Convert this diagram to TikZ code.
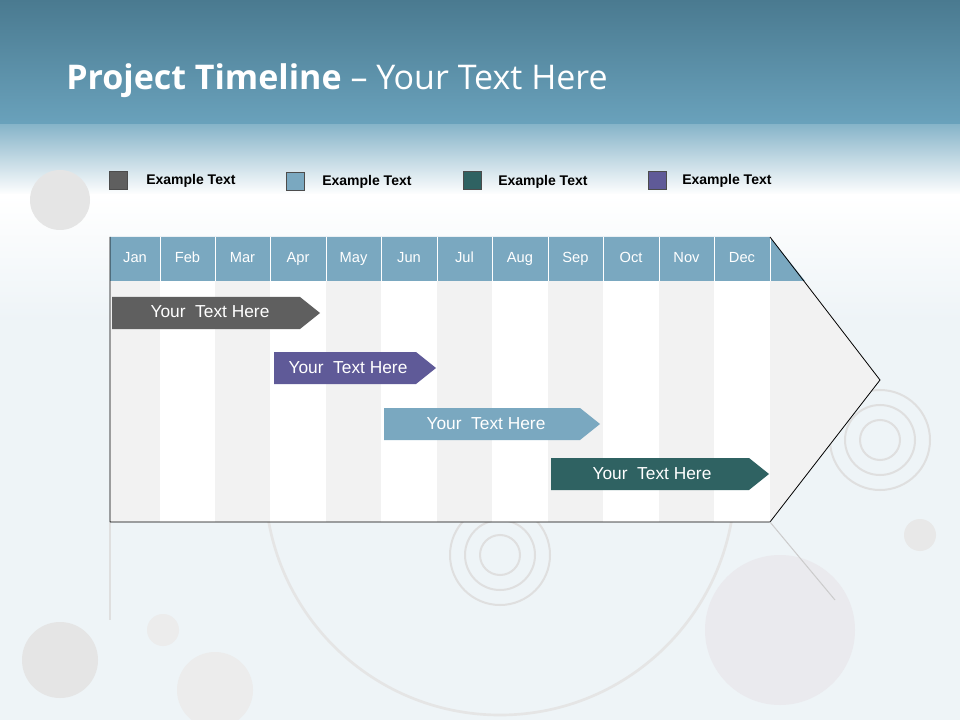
\documentclass[tikz,border=0pt]{standalone}
\usepackage{fontspec}
\setmainfont{Liberation Sans}
\newfontfamily\titlefont{Open Sans}
\begin{document}
\begin{tikzpicture}[x=0.75pt,y=-0.75pt]
\definecolor{hdr}{HTML}{7AA8C0}
\definecolor{cgray}{HTML}{5F5F5F}
\definecolor{cpurp}{HTML}{5F5A98}
\definecolor{cteal}{HTML}{2F6262}
\definecolor{bandtop}{HTML}{4A7A90}
\definecolor{bandbot}{HTML}{6AA2BC}
\definecolor{bgl}{HTML}{EEF4F7}
\tikzset{
  legbox/.style={draw=gray!60!black,line width=0.4pt,minimum size=13.5pt,inner sep=0},
  legtxt/.style={font=\bfseries\fontsize{10.5}{12}\selectfont,anchor=west,inner sep=0},
  month/.style={font=\fontsize{11}{13}\selectfont,text=white,text height=8pt,text depth=2pt},
  bartxt/.style={font=\fontsize{13}{15}\selectfont,text=white,text height=9.5pt,text depth=2.5pt},
  deco/.style={draw=gray!25,line width=2pt},
}
\useasboundingbox (0,0) rectangle (960,720);
\fill[bgl] (0,0) rectangle (960,720);
\shade[top color=bandtop,bottom color=bandbot] (0,0) rectangle (960,125);
\shade[top color=bandbot!80,bottom color=white] (0,125) rectangle (960,195);
\shade[top color=white,bottom color=bgl] (0,195) rectangle (960,320);
% faint decoration
\fill[gray!20] (60,660) circle (38);
\fill[gray!15] (215,690) circle (38);
\fill[gray!20] (60,200) circle (30);
\fill[blue!10!gray!15] (780,630) circle (75);
\fill[gray!18] (920,535) circle (16);
\fill[gray!15] (163,630) circle (16);
\foreach \r in {20,35,50} \draw[gray!25,line width=1.5pt] (500,555) circle (\r);
\foreach \r in {20,35,50} \draw[gray!25,line width=1.5pt] (880,440) circle (\r);
\draw[gray!20,line width=2pt] (500,480) circle (235);
\draw[gray!25,line width=1pt] (110,522) -- (110,620);
% chart body columns
\foreach \a/\b [count=\i] in {110/160,160/215,215/270,270/326,326/381,381/437,437/492,492/548,548/603,603/659,659/714,714/770}{
  \pgfmathparse{mod(\i,2)==1 ? "black!5" : "white"}
  \edef\cc{\pgfmathresult}
  \fill[\cc] (\a,281) rectangle (\b,522);
  \draw[gray!40,line width=0.4pt] (\b,281) -- (\b,522);
}
\fill[black!5] (770,281) -- (805,281) -- (880,380) -- (770,522) -- cycle;
% header
\fill[hdr] (110,237) -- (770,237) -- (805,281) -- (110,281) -- cycle;
\foreach \a/\b/\m in {110/160/Jan,160/215/Feb,215/270/Mar,270/326/Apr,326/381/May,381/437/Jun,437/492/Jul,492/548/Aug,548/603/Sep,603/659/Oct,659/714/Nov,714/770/Dec}{
  \draw[white,line width=0.6pt] (\b,237) -- (\b,281);
  \node[month] (m\m) at ({(\a+\b)/2},259) {\m};
}
\coordinate (tl) at (110,237);
\coordinate (tr) at (770,237);
\coordinate (tip) at (880,380);
\coordinate (br) at (770,522);
\coordinate (bl) at (110,522);
\draw[black,line width=0.6pt] (bl) -- (tl) (tr) -- (tip) -- (br) -- (bl);
\draw[gray!40,line width=0.8pt] (br) -- (835,600);
% bars
\foreach \x/\y/\e/\c/\n in {112/297/320/cgray/a,274/352/436/cpurp/b,384/408/600/hdr/c,551/458/769/cteal/d}{
  \fill[\c] (\x,\y) -- (\e-20,\y) -- (\e,\y+16) -- (\e-20,\y+32) -- (\x,\y+32) -- cycle;
}
\node[bartxt] (ba) at (210,313) {Your\ \ Text Here};
\node[bartxt] (bb) at (348,369) {Your\ \ Text Here};
\node[bartxt] (bc) at (486,425) {Your\ \ Text Here};
\node[bartxt] (bd) at (652,475) {Your\ \ Text Here};
% legend
\node[legbox,fill=cgray] (l1) at (118,180) {};
\node[legtxt] (t1) at (146,181) {Example Text};
\node[legbox,fill=hdr] (l2) at (295,181) {};
\node[legtxt] (t2) at (322,182) {Example Text};
\node[legbox,fill=cteal] (l3) at (472,180) {};
\node[legtxt] (t3) at (498,182) {Example Text};
\node[legbox,fill=cpurp] (l4) at (657,180) {};
\node[legtxt] (t4) at (682,181) {Example Text};
% title
\node[anchor=west,inner sep=0,text=white,font=\titlefont\fontsize{25.5}{30}\selectfont] (title) at (66,81) {\textbf{Project Timeline} – Your Text Here};
\end{tikzpicture}
\end{document}
